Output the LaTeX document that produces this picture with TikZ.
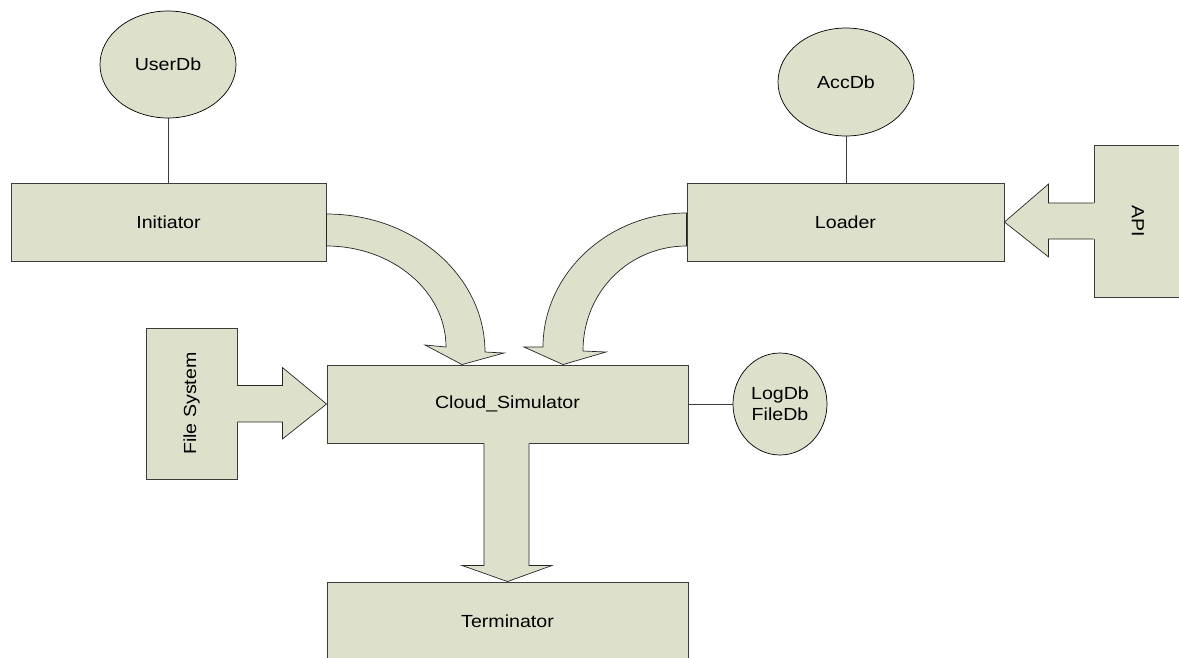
\documentclass[tikz,border=0pt]{standalone}
\usepackage{fontspec}
\setmainfont{Liberation Sans}[FakeStretch=1.12]
\usetikzlibrary{shapes.geometric, calc}

\definecolor{boxfill}{RGB}{221,224,203}
\definecolor{boxline}{RGB}{60,60,60}

\begin{document}
\begin{tikzpicture}[x=1pt, y=-1pt, font=\fontsize{17.5}{21}\selectfont,
    box/.style={rectangle, draw=boxline, fill=boxfill, line width=0.9pt, inner sep=0pt},
    db/.style={ellipse, draw=black, fill=boxfill, line width=0.7pt, inner sep=0pt, align=center},
    conn/.style={draw=boxline, line width=0.8pt},
    arrowfill/.style={fill=boxfill},
    arrowline/.style={draw=black!85, line width=0.7pt, line join=miter}]

    % 0. Page frame (the bottom box and the API box run off the page)
    \useasboundingbox (0,0) rectangle (1179,657);
    \clip (0,0) rectangle (1179,657);

    % 1. Boxes
    \node[box, minimum width=315pt, minimum height=78pt] (init) at (168.5,222) {Initiator};
    \node[box, minimum width=317pt, minimum height=78pt] (loader) at (845.5,222) {Loader};
    \node[box, minimum width=361pt, minimum height=78pt] (cloud) at (507.5,404) {Cloud\_Simulator};
    \node[box, minimum width=361pt, minimum height=78pt] (term) at (507.5,621) {Terminator};
    \node[box, minimum width=91pt, minimum height=151pt] (fs) at (191.5,403.5) {};
    \node[rotate=90] at (fs.center) {File System};
    \node[box, minimum width=88pt, minimum height=152pt] (api) at (1138,221) {};
    \node[rotate=-90] at (api.center) {API};

    % 2. Databases
    \node[db, minimum width=136pt, minimum height=107pt] (userdb) at (168,64.5) {UserDb};
    \node[db, minimum width=136pt, minimum height=108pt] (accdb) at (846,82) {AccDb};
    \node[db, minimum width=94pt, minimum height=102pt] (logdb) at (780,404) {LogDb\\FileDb};

    \draw[conn] (userdb.south) -- (userdb.south |- init.north);
    \draw[conn] (accdb.south) -- (accdb.south |- loader.north);
    \draw[conn] (cloud.east) -- (logdb.west);

    % 3. Curved block arrows into Cloud_Simulator
    \coordinate (tipL) at ($(cloud.north)+(-45.5,0)$);
    \coordinate (tipR) at ($(cloud.north)+(55.5,0)$);

    \draw[arrowfill, arrowline] ($(init.east)+(0,-8)$) .. controls (414,214) and (485,276) .. (485,352)
        -- (504,353) -- (tipL) -- (425,345) -- (446,347)
        .. controls (446,291) and (392,246) .. ($(init.east)+(0,24)$) -- cycle;

    \draw[arrowfill, arrowline] ($(loader.west)+(0,-9)$) .. controls (608,213) and (543,274) .. (543,347)
        -- (524,347) -- (tipR) -- (606,352) -- (583,351)
        .. controls (583,291) and (630,246) .. ($(loader.west)+(0,24)$) -- cycle;

    % 4. Straight block arrows (open on the side of the box they leave)
    % API -> Loader
    \fill[arrowfill] ($(api.west)+(1.5,-18)$) -- ($(api.west)+(-45,-18)$) -- ($(api.west)+(-45,-37)$)
        -- (loader.east) -- ($(api.west)+(-45,36)$) -- ($(api.west)+(-45,18)$) -- ($(api.west)+(1.5,18)$) -- cycle;
    \draw[arrowline] ($(api.west)+(0,-18)$) -- ($(api.west)+(-45,-18)$) -- ($(api.west)+(-45,-37)$)
        -- (loader.east) -- ($(api.west)+(-45,36)$) -- ($(api.west)+(-45,18)$) -- ($(api.west)+(0,18)$);

    % File System -> Cloud_Simulator
    \fill[arrowfill] ($(fs.east)+(-1.5,-18)$) -- ($(fs.east)+(45,-18)$) -- ($(fs.east)+(45,-36)$)
        -- (cloud.west) -- ($(fs.east)+(45,35.5)$) -- ($(fs.east)+(45,18.5)$) -- ($(fs.east)+(-1.5,18.5)$) -- cycle;
    \draw[arrowline] ($(fs.east)+(0,-18)$) -- ($(fs.east)+(45,-18)$) -- ($(fs.east)+(45,-36)$)
        -- (cloud.west) -- ($(fs.east)+(45,35.5)$) -- ($(fs.east)+(45,18.5)$) -- ($(fs.east)+(0,18.5)$);

    % Cloud_Simulator -> Terminator
    \fill[arrowfill] ($(cloud.south)+(-23.5,-1.5)$) -- ($(cloud.south)+(-23.5,122)$) -- ($(cloud.south)+(-45.5,122)$)
        -- (term.north) -- ($(cloud.south)+(44.5,122)$) -- ($(cloud.south)+(21.5,122)$) -- ($(cloud.south)+(21.5,-1.5)$) -- cycle;
    \draw[arrowline] ($(cloud.south)+(-23.5,0)$) -- ($(cloud.south)+(-23.5,122)$) -- ($(cloud.south)+(-45.5,122)$)
        -- (term.north) -- ($(cloud.south)+(44.5,122)$) -- ($(cloud.south)+(21.5,122)$) -- ($(cloud.south)+(21.5,0)$);

\end{tikzpicture}
\end{document}
